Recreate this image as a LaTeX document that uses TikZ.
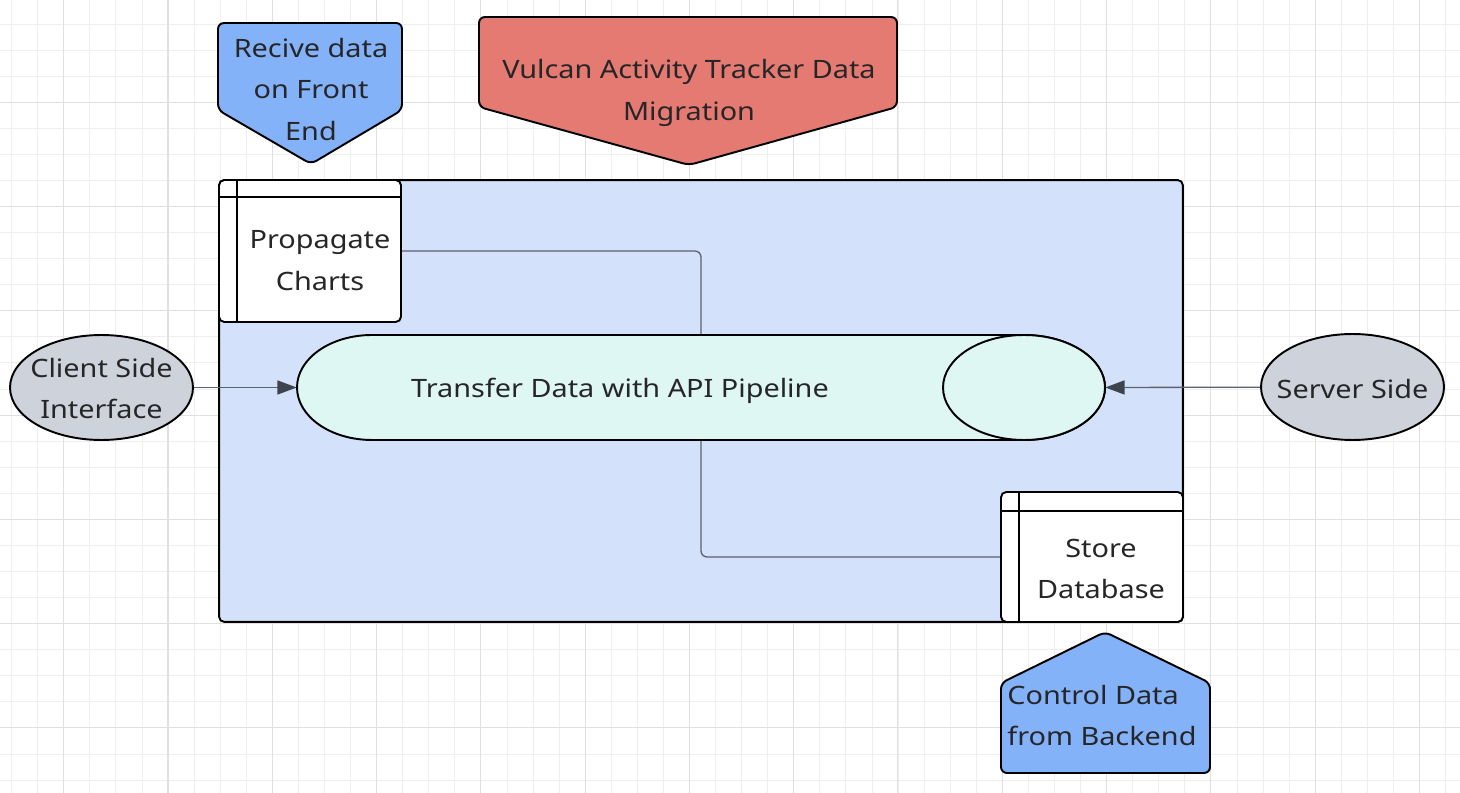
\documentclass[tikz,border=0pt]{standalone}
\usepackage{fontspec}
\setmainfont{Noto Sans}[FakeStretch=1.14]
\usetikzlibrary{shapes.geometric,arrows.meta}
\definecolor{gridminor}{RGB}{238,238,238}
\definecolor{gridmajor}{RGB}{224,224,224}
\definecolor{contfill}{RGB}{212,225,250}
\definecolor{bluefill}{RGB}{132,178,249}
\definecolor{redfill}{RGB}{228,122,114}
\definecolor{greyfill}{RGB}{206,210,219}
\definecolor{cylfill}{RGB}{223,247,243}
\definecolor{textc}{RGB}{38,38,40}
\definecolor{linec}{RGB}{92,98,110}
\definecolor{arrc}{RGB}{62,68,78}
\begin{document}
\begin{tikzpicture}[x=0.02cm,y=-0.02cm,
  txt/.style={font=\fontsize{14.4}{23.8}\selectfont, text=textc, align=center, inner sep=0pt},
  shapeline/.style={draw=black, line width=1.1pt},
  conn/.style={draw=linec, line width=0.75pt},
  arr/.style={conn, -{Triangle[length=11pt,width=8pt,color=arrc]}},
  gmin/.style={draw=gridminor, line width=0.55pt},
  gmaj/.style={draw=gridmajor, line width=0.6pt}]
\useasboundingbox (0,0) rectangle (1460,793);
\fill[white] (0,0) rectangle (1460,793);
% grid
\begin{scope}
\clip (0,0) rectangle (1460,793);
\foreach \i in {0,...,55} \draw[gmin] ({11.7+26.07*\i},0) -- ++(0,793);
\foreach \j in {1,...,30} \draw[gmin] (0,{-2+26.07*\j}) -- ++(1460,0);
\foreach \i in {0,...,13} \draw[gmaj] ({63.7+104.28*\i},0) -- ++(0,793);
\foreach \j in {1,...,7} \draw[gmaj] (0,{-2+104.28*\j}) -- ++(1460,0);
\end{scope}
% container
\node[shapeline, fill=contfill, rounded corners=3pt, minimum width=19.28cm, minimum height=8.84cm, inner sep=0pt] (cont) at (701,401) {};
% propagate charts
\node[shapeline, fill=white, rounded corners=3pt, minimum width=3.64cm, minimum height=2.84cm, inner sep=0pt] (pc) at (310,251) {};
\draw[shapeline] (219,197) -- (401,197);
\draw[shapeline] (237,180) -- (237,322);
\node[txt] (pctext) at (320,261) {Propagate\\Charts};
% store database
\node[shapeline, fill=white, rounded corners=3pt, minimum width=3.64cm, minimum height=2.6cm, inner sep=0pt] (sd) at (1092,557) {};
\draw[shapeline] (1001,511) -- (1183,511);
\draw[shapeline] (1019,492) -- (1019,622);
\node[txt] (sdtext) at (1101,569) {Store\\Database};
% connectors to cylinder
\node[minimum width=16.16cm, minimum height=2.1cm, inner sep=0pt] (cyl) at (701,387.5) {};
\draw[conn, rounded corners=3.5pt] (pc.east) -| (cyl.north);
\draw[conn, rounded corners=3.5pt] (cyl.south) |- (sd.west);
% cylinder body
\draw[shapeline, fill=cylfill] (1024,335) -- (372,335)
  arc[start angle=90, end angle=270, x radius=1.5cm, y radius=1.05cm]
  -- (1024,440)
  arc[start angle=-90, end angle=90, x radius=1.62cm, y radius=1.05cm] -- cycle;
\node[ellipse, shapeline, fill=cylfill, minimum width=3.24cm, minimum height=2.1cm, inner sep=0pt] (cylend) at (1024,387.5) {};
\node[txt] (cyltext) at (620,391) {Transfer Data with API Pipeline};
% side ellipses
\node[ellipse, shapeline, fill=greyfill, minimum width=3.66cm, minimum height=2.1cm, inner sep=0pt] (client) at (101.5,387.5) {};
\node[txt] (clienttext) at (101.5,388.5) {Client Side\\Interface};
\node[ellipse, shapeline, fill=greyfill, minimum width=3.66cm, minimum height=2.12cm, inner sep=0pt] (server) at (1352.5,387) {};
\node[txt] (servertext) at (1352.5,389.5) {Server Side};
\draw[arr] (client) -- (cyl.west);
\draw[arr] (server) -- (cyl.east);
% pentagons
\draw[shapeline, fill=bluefill, rounded corners=3.4pt] (218,23) -- (402,23) -- (402,110) -- (311,164) -- (218,110) -- cycle;
\node[txt] (recv) at (311,89.5) {Recive data\\on Front\\End};
\draw[shapeline, fill=redfill, rounded corners=3.4pt] (479,17) -- (897,17) -- (897,107) -- (689,165) -- (479,107) -- cycle;
\node[txt] (title) at (689,93) {Vulcan Activity Tracker Data\\Migration};
\draw[shapeline, fill=bluefill, rounded corners=3.4pt] (1105,632) -- (1210,683) -- (1210,773) -- (1001,773) -- (1001,683) -- cycle;
\node[txt, align=left, anchor=west] (ctrl) at (1007,715.5) {Control Data\\from Backend};
\end{tikzpicture}
\end{document}
